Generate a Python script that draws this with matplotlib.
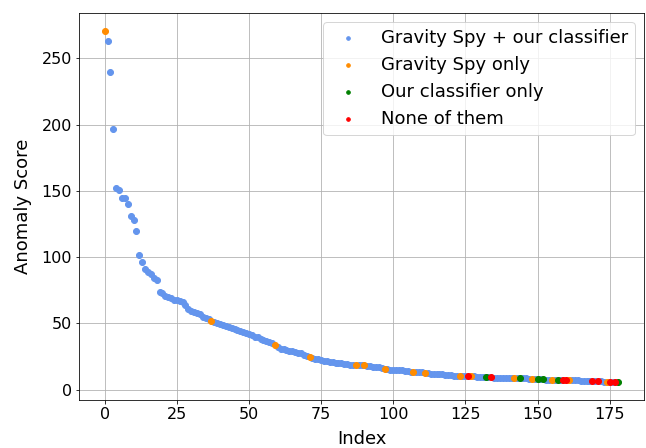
import numpy as np
import matplotlib
matplotlib.use("Agg")
import matplotlib.pyplot as plt

# anomaly scores, sorted (index 0..178)
scores = [
    271, 263, 240, 197, 152, 151, 145, 145, 140, 131,
    128, 120, 102, 96, 91, 89, 87, 84, 83, 74,
    73, 71, 70, 69, 68, 67.5, 67, 66.5, 64, 61,
    59.5, 58.5, 58, 57, 55, 54, 53, 52, 51, 50.5,
    49.5, 48.5, 48, 47.5, 46.5, 46, 45, 44.5, 43.5, 42.5,
    42, 41, 40, 39.5, 38.5, 37.5, 37, 36, 35, 34,
    32, 31, 30.5, 30, 29.5, 29, 28.5, 28, 27.5, 26.5,
    25.5, 25, 24, 23.5, 23, 22.5, 22, 21.5, 21, 21,
    20.5, 20, 20, 19.5, 19.5, 19, 19, 19, 18.5, 18.5,
    18.5, 18, 18, 17.5, 17.5, 17, 16.5, 16, 15.5, 15,
    15, 14.5, 14.5, 14.5, 14, 14, 13.5, 13.5, 13, 13,
    13, 12.5, 12.5, 12, 12, 12, 11.5, 11.5, 11, 11,
    11, 10.5, 10.5, 10.5, 10, 10, 10, 10, 10, 9.5,
    9.5, 9.5, 9.5, 9.5, 9.5, 9, 9, 9, 9, 9,
    9, 8.5, 8.5, 8.5, 8.5, 8.5, 8.5, 8, 8, 8,
    8, 8, 8, 7.5, 7.5, 7.5, 7.5, 7.5, 7.5, 7,
    7, 7, 7, 7, 7, 6.5, 6.5, 6.5, 6.5, 6.5,
    6.5, 6.5, 6.5, 6, 6, 6, 6, 6, 5.5,
]

gsOnlyIdx = [0, 37, 59, 71, 87, 90, 97, 107, 111, 123, 127, 142, 148, 155, 161, 174]
oursOnlyIdx = [132, 144, 150, 152, 157, 178]
noneIdx = [126, 134, 159, 160, 169, 171, 175, 177]

labels = ["Gravity Spy + our classifier", "Gravity Spy only",
          "Our classifier only", "None of them"]
colors = ["cornflowerblue", "darkorange", "green", "red"]

scores = np.array(scores)
idx = np.arange(len(scores))
cat = np.zeros(len(scores), dtype=int)
cat[gsOnlyIdx] = 1
cat[oursOnlyIdx] = 2
cat[noneIdx] = 3

fig = plt.figure(figsize=(646 / 72, 448 / 72), dpi=72)
ax = fig.add_axes([0.1223, 0.1071, 0.8746, 0.864])
ax.set_axisbelow(True)
for c in range(4):
    m = cat == c
    ax.scatter(idx[m], scores[m], color=colors[c], label=labels[c])

ax.grid(True)
ax.set_xticks([0, 25, 50, 75, 100, 125, 150, 175])
ax.set_yticks([0, 50, 100, 150, 200, 250])
ax.tick_params(labelsize=16)
ax.set_xlabel("Index", fontsize=18, labelpad=8)
ax.set_ylabel("Anomaly Score", fontsize=18, labelpad=10)
ax.legend(loc="upper right", fontsize=18, markerscale=0.6)

fig.savefig("out.png", dpi=72)
